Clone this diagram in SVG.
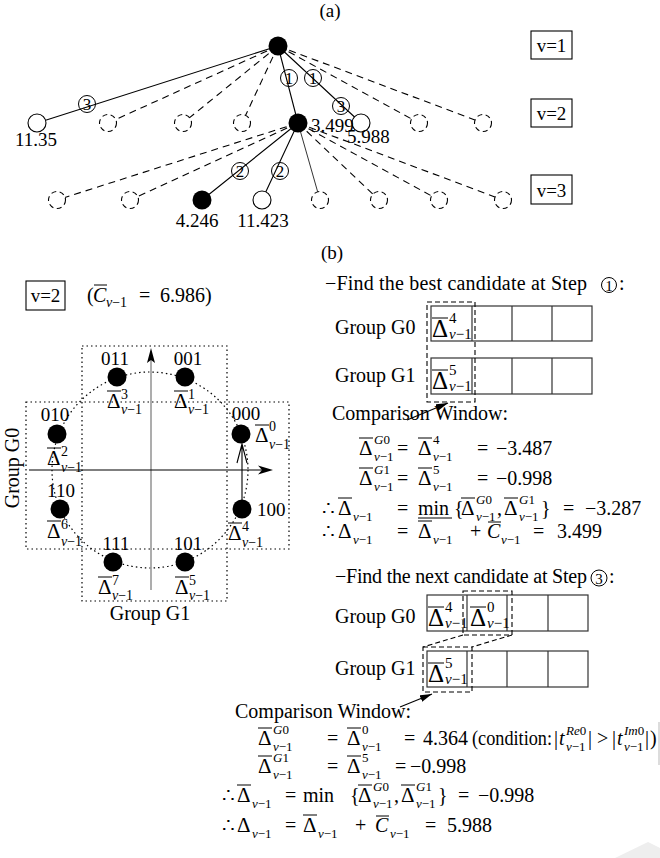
<svg xmlns="http://www.w3.org/2000/svg" width="660" height="858" viewBox="0 0 660 858">
<defs>
<style>
text{font-family:"Liberation Serif","Times New Roman",serif;fill:#000}
.t{font-size:19px}
.m{font-size:20px}
.D{font-size:21px}
.DT{font-size:25px}
.s{font-size:13px}
.sc{font-size:14px}
.ss{font-size:15px}
.k{font-size:17px}
.i{font-style:italic}
.c{text-anchor:middle}
.ln{stroke:#000;stroke-width:1.1;fill:none}
.thin{stroke:#000;stroke-width:0.8;fill:none}
.dl{stroke:#000;stroke-width:1.1;fill:none;stroke-dasharray:7 5}
.bar{stroke:#000;stroke-width:1;fill:none}
.op{fill:#fff;stroke:#000;stroke-width:1.1}
.od{fill:#fff;stroke:#000;stroke-width:1.1;stroke-dasharray:5 3.5}
.fn{fill:#000}
.cs{fill:none;stroke:#000;stroke-width:1}
.dot{fill:none;stroke:#000;stroke-width:1.2;stroke-dasharray:1.5 3}
.cell{fill:none;stroke:#333;stroke-width:1.2}
.win{fill:none;stroke:#000;stroke-width:1.1;stroke-dasharray:5 3}
.box{fill:none;stroke:#000;stroke-width:1.1}
</style>
<marker id="ah" viewBox="0 0 12 8" refX="12" refY="4" markerWidth="12" markerHeight="8" orient="auto" markerUnits="userSpaceOnUse">
<path d="M0,0.5 L12,4 L0,7.5 Z" fill="#000"/>
</marker>
</defs>
<rect width="660" height="858" fill="#fff"/>
<!-- faint page marks at the lower right edge -->
<path d="M615,858 L648,842 L660,848 L660,858 Z" fill="#eeeeee"/>
<line x1="659" y1="722" x2="659" y2="765" stroke="#d0d0d0" stroke-width="1.5"/>

<!-- ===== (a) search tree ===== -->
<text class="t c" x="330" y="17">(a)</text>

<g id="tree-edges">
  <path class="ln" d="M278,46 L37,123 M278,46 L298,123 M278,46 L361,123"/>
  <path class="dl" d="M278,46 L108,123 M278,46 L183,123 M278,46 L242,123 M278,46 L419,123 M278,46 L483,123"/>
  <path class="ln" d="M298,123 L202,200 M298,123 L262,200"/>
  <path class="thin" d="M298,123 L320,200"/>
  <path class="dl" d="M298,123 L57,200 M298,123 L130,200 M298,123 L379,200 M298,123 L439,200 M298,123 L503,200"/>
</g>

<g id="tree-root"><circle class="fn" cx="278" cy="46" r="9.5"/></g>
<g id="tree-level2">
  <circle class="op" cx="37" cy="123" r="9"/>
  <circle class="od" cx="108" cy="123" r="8.5"/>
  <circle class="od" cx="183" cy="123" r="8.5"/>
  <circle class="od" cx="242" cy="123" r="8.5"/>
  <circle class="fn" cx="298" cy="123" r="9.5"/>
  <circle class="op" cx="361" cy="123" r="9"/>
  <circle class="od" cx="419" cy="123" r="8.5"/>
  <circle class="od" cx="483" cy="123" r="8.5"/>
</g>
<g id="tree-level3">
  <circle class="od" cx="57" cy="200" r="8.5"/>
  <circle class="od" cx="130" cy="200" r="8.5"/>
  <circle class="fn" cx="202" cy="200" r="9.5"/>
  <circle class="op" cx="262" cy="200" r="9"/>
  <circle class="od" cx="320" cy="200" r="8.5"/>
  <circle class="od" cx="379" cy="200" r="8.5"/>
  <circle class="od" cx="439" cy="200" r="8.5"/>
  <circle class="od" cx="503" cy="200" r="8.5"/>
</g>

<g id="tree-steps">
  <circle class="cs" cx="87" cy="104" r="8.5"/><text class="k c" x="87" y="110">3</text>
  <circle class="cs" cx="289" cy="78" r="8.5"/><text class="k c" x="289" y="84">1</text>
  <circle class="cs" cx="313" cy="78" r="8.5"/><text class="k c" x="313" y="84">1</text>
  <circle class="cs" cx="341" cy="106" r="8.5"/><text class="k c" x="341" y="112">3</text>
  <circle class="cs" cx="240" cy="171" r="8.5"/><text class="k c" x="240" y="177">2</text>
  <circle class="cs" cx="280" cy="171" r="8.5"/><text class="k c" x="280" y="177">2</text>
</g>

<g id="tree-labels">
  <text class="t c" x="36" y="146">11.35</text>
  <text class="t" x="311" y="132">3.499</text>
  <text class="t" x="347" y="143">5.988</text>
  <text class="t c" x="197" y="227">4.246</text>
  <text class="t c" x="263" y="227">11.423</text>
</g>

<g id="levels">
  <rect class="box" x="531" y="31" width="41" height="28"/><text class="t c" x="551.5" y="52">v=1</text>
  <rect class="box" x="531" y="99" width="41" height="28"/><text class="t c" x="551.5" y="120">v=2</text>
  <rect class="box" x="531" y="175" width="41" height="29"/><text class="t c" x="551.5" y="197">v=3</text>
</g>

<!-- ===== (b) constellation ===== -->
<text class="t c" x="332" y="259">(b)</text>

<g id="header-b">
  <rect class="box" x="26" y="281" width="39" height="29"/><text class="t c" x="45.5" y="302">v=2</text>
  <text class="m" x="87" y="302">(</text>
  <text class="m i" x="93" y="302">C</text>
  <path class="bar" d="M94,285 h13"/>
  <text class="sc" x="106" y="307"><tspan class="i">v</tspan>−1</text>
  <text class="m" x="139" y="302">=</text>
  <text class="m" x="160" y="302">6.986)</text>
</g>

<g id="constellation">
  <rect class="dot" x="26" y="402" width="263" height="147"/>
  <rect class="dot" x="82" y="346" width="145" height="255"/>
  <circle class="dot" cx="150" cy="470" r="98"/>
  <line x1="151" y1="590" x2="151" y2="358" stroke="#999" stroke-width="1.6"/>
  <path d="M151,348 L147,363 L151,360 L155,363 Z" fill="#000"/>
  <line x1="29" y1="470" x2="264" y2="470" stroke="#000" stroke-width="1.1"/>
  <path d="M273,470 L258,465.5 L262,470 L258,474.5 Z" fill="#000"/>
  <path class="ln" d="M242,500 L242,444 M237,463 L242,444 L247,463"/>

  <g id="s011"><circle class="fn" cx="117" cy="377" r="9.5"/><text class="t c" x="115" y="365">011</text></g>
  <g id="s001"><circle class="fn" cx="185" cy="377" r="9.5"/><text class="t c" x="188" y="365">001</text></g>
  <g id="s010"><circle class="fn" cx="57" cy="434" r="9.5"/><text class="t c" x="55" y="421">010</text></g>
  <g id="s000"><circle class="fn" cx="241" cy="434" r="9.5"/><text class="t c" x="246" y="420">000</text></g>
  <g id="s110"><circle class="fn" cx="60" cy="509" r="9.5"/><text class="t c" x="61" y="497">110</text></g>
  <g id="s100"><circle class="fn" cx="242" cy="509" r="9.5"/><text class="t" x="257" y="516">100</text></g>
  <g id="s111"><circle class="fn" cx="113" cy="562" r="9.5"/><text class="t c" x="116" y="550">111</text></g>
  <g id="s101"><circle class="fn" cx="185" cy="562" r="9.5"/><text class="t c" x="188" y="550">101</text></g>

  <g id="metrics">
    <text class="D" x="107" y="408">Δ</text><text class="sc" x="121" y="399">3</text><text class="sc" x="121" y="414"><tspan class="i">v</tspan>−1</text>
    <text class="D" x="174" y="408">Δ</text><text class="sc" x="188" y="399">1</text><text class="sc" x="188" y="414"><tspan class="i">v</tspan>−1</text>
    <text class="D" x="47" y="465">Δ</text><text class="sc" x="61" y="456">2</text><text class="sc" x="61" y="472"><tspan class="i">v</tspan>−1</text>
    <text class="D" x="255" y="442">Δ</text><text class="sc" x="269" y="431">0</text><text class="sc" x="269" y="449"><tspan class="i">v</tspan>−1</text>
    <text class="D" x="47" y="538">Δ</text><text class="sc" x="61" y="529">6</text><text class="sc" x="61" y="546"><tspan class="i">v</tspan>−1</text>
    <text class="D" x="228" y="540">Δ</text><text class="sc" x="242" y="531">4</text><text class="sc" x="242" y="547"><tspan class="i">v</tspan>−1</text>
    <text class="D" x="98" y="594">Δ</text><text class="sc" x="112" y="585">7</text><text class="sc" x="112" y="600"><tspan class="i">v</tspan>−1</text>
    <text class="D" x="175" y="594">Δ</text><text class="sc" x="189" y="585">5</text><text class="sc" x="189" y="600"><tspan class="i">v</tspan>−1</text>
    <path class="bar" d="M107,391 h14 M174,391 h14 M47,448 h14 M255,425 h14 M47,521 h14 M228,523 h14 M98,577 h14 M175,577 h14"/>
  </g>

  <text class="m c" transform="translate(19,468) rotate(-90)">Group G0</text>
  <text class="m c" x="150" y="620">Group G1</text>
</g>

<!-- ===== step 1 ===== -->
<g id="step1">
  <text class="m" x="325" y="290" textLength="262" lengthAdjust="spacing">−Find the best candidate at Step</text>
  <circle class="cs" cx="609" cy="285" r="7.5"/><text class="ss c" x="609" y="290.5">1</text>
  <text class="m" x="619" y="290">:</text>

  <text class="m" x="335" y="334">Group G0</text>
  <text class="m" x="335" y="382">Group G1</text>
  <g id="t1-g0">
    <rect class="cell" x="431" y="306" width="161" height="35"/>
    <path class="cell" d="M472,306 V341 M512,306 V341 M552,306 V341"/>
    <text class="DT" x="432" y="337">Δ</text><text class="ss" x="449" y="323">4</text><text class="ss" x="449" y="339"><tspan class="i">v</tspan>−1</text>
  </g>
  <g id="t1-g1">
    <rect class="cell" x="431" y="358" width="161" height="36"/>
    <path class="cell" d="M472,358 V394 M512,358 V394 M552,358 V394"/>
    <text class="DT" x="432" y="389">Δ</text><text class="ss" x="449" y="375">5</text><text class="ss" x="449" y="391"><tspan class="i">v</tspan>−1</text>
  </g>
  <path class="bar" d="M432,318 h16 M432,370 h16"/>
  <rect class="win" x="427" y="302" width="48" height="100"/>
  <path class="ln" d="M407,420 L448,403" marker-end="url(#ah)"/>
  <text class="m" x="332" y="420">Comparison Window:</text>

  <g id="eq1">
    <text class="D" x="359" y="455">Δ</text><text class="s" x="374" y="444"><tspan class="i">G</tspan>0</text><text class="s" x="374" y="461"><tspan class="i">v</tspan>−1</text>
    <text class="m" x="397" y="455">=</text>
    <text class="D" x="418" y="455">Δ</text><text class="s" x="433" y="444">4</text><text class="s" x="433" y="461"><tspan class="i">v</tspan>−1</text>
    <text class="m" x="477" y="455">=</text>
    <text class="m" x="496" y="455">−3.487</text>

    <text class="D" x="359" y="485">Δ</text><text class="s" x="374" y="474"><tspan class="i">G</tspan>1</text><text class="s" x="374" y="491"><tspan class="i">v</tspan>−1</text>
    <text class="m" x="397" y="485">=</text>
    <text class="D" x="418" y="485">Δ</text><text class="s" x="433" y="474">5</text><text class="s" x="433" y="491"><tspan class="i">v</tspan>−1</text>
    <text class="m" x="477" y="485">=</text>
    <text class="m" x="496" y="485">−0.998</text>

    <text class="m" x="322" y="515">∴</text>
    <text class="D" x="338" y="515">Δ</text><text class="s" x="353" y="521"><tspan class="i">v</tspan>−1</text>
    <text class="m" x="397" y="515">=</text>
    <text class="m" x="418" y="515">min</text>
    <path class="bar" d="M418,518 h34"/>
    <text class="m" x="454" y="515">{</text>
    <text class="D" x="461" y="515">Δ</text><text class="s" x="476" y="504"><tspan class="i">G</tspan>0</text><text class="s" x="476" y="521"><tspan class="i">v</tspan>−1</text>
    <text class="m" x="497" y="515">,</text>
    <text class="D" x="504" y="515">Δ</text><text class="s" x="519" y="504"><tspan class="i">G</tspan>1</text><text class="s" x="519" y="521"><tspan class="i">v</tspan>−1</text>
    <text class="m" x="541" y="515">}</text>
    <text class="m" x="563" y="515">=</text>
    <text class="m" x="585" y="515">−3.287</text>

    <text class="m" x="322" y="538">∴</text>
    <text class="D" x="338" y="538">Δ</text><text class="s" x="353" y="544"><tspan class="i">v</tspan>−1</text>
    <text class="m" x="397" y="538">=</text>
    <text class="D" x="418" y="538">Δ</text><text class="s" x="433" y="544"><tspan class="i">v</tspan>−1</text>
    <text class="m" x="470" y="538">+</text>
    <text class="m i" x="487" y="538">C</text><text class="s" x="501" y="544"><tspan class="i">v</tspan>−1</text>
    <text class="m" x="533" y="538">=</text>
    <text class="m" x="557" y="538">3.499</text>

    <path class="bar" d="M359,438 h14 M418,438 h14 M359,468 h14 M418,468 h14 M338,498 h14 M461,498 h14 M504,498 h14 M418,521 h14 M488,522 h13"/>
  </g>
</g>

<!-- ===== step 3 ===== -->
<g id="step3">
  <text class="m" x="335" y="583" textLength="252" lengthAdjust="spacing">−Find the next candidate at Step</text>
  <circle class="cs" cx="599" cy="578" r="8"/><text class="ss c" x="599" y="583.5">3</text>
  <text class="m" x="609" y="583">:</text>

  <text class="m" x="335" y="623">Group G0</text>
  <text class="m" x="335" y="675">Group G1</text>
  <g id="t2-g0">
    <rect class="cell" x="427" y="595" width="161" height="36"/>
    <path class="cell" d="M467,595 V631 M507,595 V631 M548,595 V631"/>
    <text class="DT" x="428" y="626">Δ</text><text class="ss" x="445" y="612">4</text><text class="ss" x="445" y="628"><tspan class="i">v</tspan>−1</text>
    <text class="DT" x="470" y="626">Δ</text><text class="ss" x="487" y="612">0</text><text class="ss" x="487" y="628"><tspan class="i">v</tspan>−1</text>
  </g>
  <g id="t2-g1">
    <rect class="cell" x="427" y="651" width="161" height="36"/>
    <path class="cell" d="M467,651 V687 M507,651 V687 M548,651 V687"/>
    <text class="DT" x="428" y="682">Δ</text><text class="ss" x="445" y="668">5</text><text class="ss" x="445" y="684"><tspan class="i">v</tspan>−1</text>
  </g>
  <path class="bar" d="M428,607 h16 M470,607 h16 M428,663 h16"/>
  <rect class="win" x="463" y="591" width="49" height="44"/>
  <rect class="win" x="423" y="647" width="49" height="45"/>
  <path class="win" d="M463,635 L423,647 M512,635 L472,647"/>
  <path class="ln" d="M400,707 L432,694" marker-end="url(#ah)"/>
  <text class="m" x="235" y="718">Comparison Window:</text>

  <g id="eq3">
    <text class="D" x="258" y="745">Δ</text><text class="s" x="273" y="734"><tspan class="i">G</tspan>0</text><text class="s" x="273" y="751"><tspan class="i">v</tspan>−1</text>
    <text class="m" x="327" y="745">=</text>
    <text class="D" x="347" y="745">Δ</text><text class="s" x="362" y="734">0</text><text class="s" x="362" y="751"><tspan class="i">v</tspan>−1</text>
    <text class="m" x="404" y="745">=</text>
    <text class="m" x="423" y="745">4.364</text>
    <text class="m" x="472" y="745" textLength="80" lengthAdjust="spacingAndGlyphs">(condition:</text>
    <text class="m" x="554" y="745">|</text>
    <text class="m i" x="559" y="745">t</text><text class="s" x="566" y="735"><tspan class="i">Re</tspan>0</text><text class="s" x="566" y="751"><tspan class="i">v</tspan>−1</text>
    <text class="m" x="588" y="745">|</text>
    <text class="m" x="597" y="745">&gt;</text>
    <text class="m" x="612" y="745">|</text>
    <text class="m i" x="617" y="745">t</text><text class="s" x="624" y="735"><tspan class="i">Im</tspan>0</text><text class="s" x="624" y="751"><tspan class="i">v</tspan>−1</text>
    <text class="m" x="645" y="745">|</text>
    <text class="m" x="650" y="745">)</text>

    <text class="D" x="258" y="773">Δ</text><text class="s" x="273" y="762"><tspan class="i">G</tspan>1</text><text class="s" x="273" y="779"><tspan class="i">v</tspan>−1</text>
    <text class="m" x="327" y="773">=</text>
    <text class="D" x="347" y="773">Δ</text><text class="s" x="362" y="762">5</text><text class="s" x="362" y="779"><tspan class="i">v</tspan>−1</text>
    <text class="m" x="395" y="773">=</text>
    <text class="m" x="410" y="773">−0.998</text>

    <text class="m" x="222" y="802">∴</text>
    <text class="D" x="237" y="802">Δ</text><text class="s" x="252" y="808"><tspan class="i">v</tspan>−1</text>
    <text class="m" x="285" y="802">=</text>
    <text class="m" x="303" y="802">min</text>
    <text class="m" x="350" y="802">{</text>
    <text class="D" x="358" y="802">Δ</text><text class="s" x="373" y="791"><tspan class="i">G</tspan>0</text><text class="s" x="373" y="808"><tspan class="i">v</tspan>−1</text>
    <text class="m" x="394" y="802">,</text>
    <text class="D" x="401" y="802">Δ</text><text class="s" x="416" y="791"><tspan class="i">G</tspan>1</text><text class="s" x="416" y="808"><tspan class="i">v</tspan>−1</text>
    <text class="m" x="438" y="802">}</text>
    <text class="m" x="458" y="802">=</text>
    <text class="m" x="478" y="802">−0.998</text>

    <text class="m" x="222" y="832">∴</text>
    <text class="D" x="237" y="832">Δ</text><text class="s" x="252" y="838"><tspan class="i">v</tspan>−1</text>
    <text class="m" x="285" y="832">=</text>
    <text class="D" x="303" y="832">Δ</text><text class="s" x="318" y="838"><tspan class="i">v</tspan>−1</text>
    <text class="m" x="355" y="832">+</text>
    <text class="m i" x="375" y="832">C</text><text class="s" x="390" y="838"><tspan class="i">v</tspan>−1</text>
    <text class="m" x="425" y="832">=</text>
    <text class="m" x="447" y="832">5.988</text>

    <path class="bar" d="M258,728 h14 M347,728 h14 M258,756 h14 M347,756 h14 M237,785 h14 M358,785 h14 M401,785 h14 M303,815 h14 M376,816 h13"/>
  </g>
</g>
</svg>
